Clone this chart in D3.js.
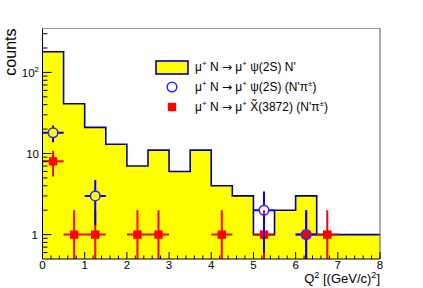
<!DOCTYPE html>
<html>
<head>
<meta charset="utf-8">
<script src="https://cdn.jsdelivr.net/npm/d3@7"></script>
<style>
  html, body { margin: 0; padding: 0; background: #fff; }
  svg text { font-family: "Liberation Sans", Arial, sans-serif; fill: #000; }
</style>
</head>
<body>
<div id="chart"></div>
<script>
// ---- data ----
const binEdges = [0, 0.5, 1, 1.5, 2, 2.5, 3, 3.5, 4, 4.5, 5, 5.5, 6, 6.5, 7, 7.5];
const histCounts = [180, 41, 21, 13, 7, 11, 6, 11, 4, 3, 1, 2, 3, 1, 1, 1];

// psi(2S) (N'pi) : open blue circles
const psiX = [0.25, 1.25, 5.25, 6.25];
const psiY = [18, 3, 2, 1];
const psiErr = [4.2, 1.7, 1.4, 1.0];

// X(3872) (N'pi) : red squares
const xX = [0.25, 0.75, 1.25, 2.25, 2.75, 4.25, 5.25, 6.25, 6.75];
const xY = [8, 1, 1, 1, 1, 1, 1, 1, 1];
const xErr = [2.8, 1, 1, 1, 1, 1, 1, 1, 1];

const xTicks = [0, 1, 2, 3, 4, 5, 6, 7, 8];
const yMajor = [1, 10, 100];
const yMinor = [0.6, 0.7, 0.8, 0.9, 2, 3, 4, 5, 6, 7, 8, 9, 20, 30, 40, 50, 60, 70, 80, 90, 200, 300];

const W = 423, H = 288;
const pL = 42.5, pR = 380, pT = 28.5, pB = 259;
const binHalf = 0.25;
const circR = 4.8;

const svg = d3.select("#chart").append("svg")
  .attr("width", W).attr("height", H);

const x = d3.scaleLinear().domain([0, 8]).range([pL, pR]);
const y = d3.scaleLog().domain([0.5, 348]).range([pB, pT]);

svg.append("defs").append("clipPath").attr("id", "plot")
  .append("rect").attr("x", pL).attr("y", pT)
  .attr("width", pR - pL).attr("height", pB - pT);

const plot = svg.append("g").attr("clip-path", "url(#plot)");

// ---- histogram ----
const steps = binEdges.map((e, i) => ({ x: e, v: histCounts[i] }));
steps.push({ x: 8, v: histCounts[histCounts.length - 1] });

plot.append("path")
  .datum(steps)
  .attr("fill", "#ffff00")
  .attr("d", d3.area().curve(d3.curveStepAfter)
    .x(d => x(d.x)).y0(pB).y1(d => y(d.v)));

plot.append("path")
  .datum(steps)
  .attr("fill", "none")
  .attr("stroke", "#000099")
  .attr("stroke-width", 1.6)
  .attr("d", d3.line().curve(d3.curveStepAfter).x(d => x(d.x)).y(d => y(d.v)));

// error bars, leaving a gap round the marker like ROOT does
function errorBars(g, xs, ys, es, color, gap) {
  xs.forEach((px, i) => {
    const cx = x(px), cy = y(ys[i]);
    const lo = Math.max(ys[i] - es[i], 0.3);
    const segs = [
      [cx, y(ys[i] + es[i]), cx, cy - gap],
      [cx, cy + gap, cx, y(lo)],
      [x(px - binHalf), cy, cx - gap, cy],
      [cx + gap, cy, x(px + binHalf), cy]
    ];
    segs.forEach(s => {
      g.append("line")
        .attr("x1", s[0]).attr("y1", s[1]).attr("x2", s[2]).attr("y2", s[3])
        .attr("stroke", color).attr("stroke-width", 2);
    });
  });
}

// red squares first, blue circles on top
errorBars(plot, xX, xY, xErr, "#ff0000", 0);
xX.forEach((px, i) => {
  plot.append("rect")
    .attr("x", x(px) - 4.2).attr("y", y(xY[i]) - 4.2)
    .attr("width", 8.4).attr("height", 8.4)
    .attr("fill", "#ff0000");
});

errorBars(plot, psiX, psiY, psiErr, "#0000ff", circR);
psiX.forEach((px, i) => {
  plot.append("circle")
    .attr("cx", x(px)).attr("cy", y(psiY[i]))
    .attr("r", circR)
    .attr("fill", "none")
    .attr("stroke", "#2a2aff").attr("stroke-width", 1.6);
});

// ---- frame ----
svg.append("line").attr("x1", pL).attr("x2", pR).attr("y1", pT).attr("y2", pT)
  .attr("stroke", "#999").attr("stroke-width", 1);
svg.append("line").attr("x1", pR).attr("x2", pR).attr("y1", pT).attr("y2", pB)
  .attr("stroke", "#555").attr("stroke-width", 1);

// ---- x axis (ticks inside) ----
const xAxis = svg.append("g");
xAxis.append("line").attr("x1", pL).attr("x2", pR).attr("y1", pB).attr("y2", pB)
  .attr("stroke", "#000");
d3.range(0, 8.001, 0.2).forEach(v => {
  const major = Math.abs(v - Math.round(v)) < 1e-6;
  xAxis.append("line")
    .attr("x1", x(v)).attr("x2", x(v))
    .attr("y1", pB).attr("y2", pB - (major ? 7 : 3.5))
    .attr("stroke", "#000");
});
xAxis.selectAll("text.tick").data(xTicks).join("text")
  .attr("x", d => x(d)).attr("y", 269)
  .attr("text-anchor", "middle")
  .style("font-size", "11.5px")
  .text(d => d);

const xt = svg.append("text").attr("x", pR).attr("y", 283)
  .attr("text-anchor", "end").style("font-size", "13px");
xt.append("tspan").text("Q");
xt.append("tspan").attr("dy", -5).style("font-size", "9px").text("2");
xt.append("tspan").attr("dy", 5).text(" [(GeV/c)");
xt.append("tspan").attr("dy", -5).style("font-size", "9px").text("2");
xt.append("tspan").attr("dy", 5).text("]");

// ---- y axis (ticks inside) ----
const yAxis = svg.append("g");
yAxis.append("line").attr("x1", pL).attr("x2", pL).attr("y1", pT).attr("y2", pB)
  .attr("stroke", "#000");
yMajor.forEach(v => {
  yAxis.append("line").attr("x1", pL).attr("x2", pL + 9)
    .attr("y1", y(v)).attr("y2", y(v)).attr("stroke", "#000");
});
yMinor.forEach(v => {
  yAxis.append("line").attr("x1", pL).attr("x2", pL + 5)
    .attr("y1", y(v)).attr("y2", y(v)).attr("stroke", "#000");
});
yAxis.append("text").attr("x", 38).attr("y", y(1) + 4.3)
  .attr("text-anchor", "end").style("font-size", "11.5px").text("1");
yAxis.append("text").attr("x", 39).attr("y", y(10) + 4.3)
  .attr("text-anchor", "end").style("font-size", "11.5px").text("10");
const t100 = yAxis.append("text").attr("x", 39).attr("y", y(100) + 4.3)
  .attr("text-anchor", "end").style("font-size", "11.5px");
t100.append("tspan").text("10");
t100.append("tspan").attr("dy", -5).style("font-size", "8px").text("2");

svg.append("text")
  .attr("transform", `translate(16, ${pT}) rotate(-90)`)
  .attr("text-anchor", "end")
  .style("font-size", "16px")
  .text("counts");

// ---- legend ----
// segments: [text, kind]  kind 0 = normal, 1 = superscript, 2 = arrow
const legendRows = [
  [["μ", 0], ["+", 1], [" N ", 0], ["→", 2], [" μ", 0], ["+", 1], [" ψ(2S) N'", 0]],
  [["μ", 0], ["+", 1], [" N ", 0], ["→", 2], [" μ", 0], ["+", 1], [" ψ(2S) (N'π", 0], ["±", 1], [")", 0]],
  [["μ", 0], ["+", 1], [" N ", 0], ["→", 2], [" μ", 0], ["+", 1], [" X\u0303(3872) (N'π", 0], ["±", 1], [")", 0]]
];
const legY = [67, 87, 107];
const leg = svg.append("g");
leg.append("rect").attr("x", 156).attr("y", 61).attr("width", 32).attr("height", 13)
  .attr("fill", "#ffff00").attr("stroke", "#000099").attr("stroke-width", 1.6);
leg.append("circle").attr("cx", 172).attr("cy", legY[1]).attr("r", circR)
  .attr("fill", "none").attr("stroke", "#2a2aff").attr("stroke-width", 1.6);
leg.append("rect").attr("x", 167.8).attr("y", legY[2] - 4.2).attr("width", 8.4).attr("height", 8.4)
  .attr("fill", "#ff0000");

legendRows.forEach((segs, r) => {
  const t = leg.append("text").attr("x", 195).attr("y", legY[r] + 3.5)
    .style("font-size", "12px");
  let raised = false;
  segs.forEach(([s, kind]) => {
    const ts = t.append("tspan").text(s);
    if (kind === 1) {
      ts.style("font-size", "8px");
      if (!raised) { ts.attr("dy", -5); raised = true; }
    } else {
      if (raised) { ts.attr("dy", 5); raised = false; }
      if (kind === 2) ts.style("font-family", "'DejaVu Sans'");
    }
  });
});
</script>
</body>
</html>
